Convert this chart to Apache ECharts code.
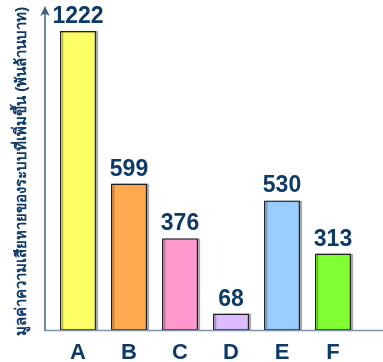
<!DOCTYPE html>
<html><head><meta charset="utf-8">
<script src="https://cdn.jsdelivr.net/npm/echarts@6/dist/echarts.min.js"></script>
<style>html,body{margin:0;padding:0;background:#fff}#c{width:383px;height:362px}</style>
</head><body><div id="c"></div>
<script>
const categories = ['A', 'B', 'C', 'D', 'E', 'F'];
const values = [1222, 599, 376, 68, 530, 313];
const barColors = ['#ffff66', '#ffaa4f', '#ff99cc', '#dcbcff', '#99ccff', '#80ff33'];
const yName = 'มูลค่าความเสียหายของระบบที่เพิ่มขึ้น (พันล้านบาท)';
const navy = '#0e3a68';

const chart = echarts.init(document.getElementById('c'), null, {renderer: 'canvas'});
chart.setOption({
  animation: false,
  backgroundColor: '#fff',
  grid: {left: 52.5, top: 12, width: 306, height: 318.5, containLabel: false, outerBoundsMode: 'none'},
  xAxis: {
    type: 'category', data: categories,
    axisLine: {show: false}, axisTick: {show: false},
    axisLabel: {color: navy, fontSize: 22, fontWeight: 'bold', fontFamily: 'Liberation Sans, Arial, sans-serif', margin: 11}
  },
  yAxis: {
    type: 'value', min: 0, max: 1300, offset: 7.5,
    name: yName, nameLocation: 'middle', nameRotate: 90, nameGap: 16,
    nameTextStyle: {color: navy, fontSize: 15, fontWeight: 'bold', fontFamily: 'Liberation Sans, Noto Sans, DejaVu Sans, sans-serif'},
    axisLine: {show: true, lineStyle: {color: '#3d5f84', width: 1.5}, symbol: ['none', 'arrow'], symbolSize: [7, 10], symbolOffset: [0, 6]},
    axisTick: {show: false}, axisLabel: {show: false}, splitLine: {show: false}
  },
  graphic: [{
    type: 'line', shape: {x1: 45, y1: 330.5, x2: 383, y2: 330.5},
    style: {stroke: '#7f93ab', lineWidth: 1.5}, z: 10
  }],
  series: [{
    type: 'bar', barWidth: 36,
    data: values.map((v, i) => ({value: v, itemStyle: {color: barColors[i]}})),
    itemStyle: {borderColor: '#222', borderWidth: 1.2, shadowColor: 'rgba(0,0,0,0.3)', shadowOffsetX: 2, shadowOffsetY: 0, shadowBlur: 1},
    label: {show: true, position: 'top', distance: 3, color: navy, fontSize: 23, fontWeight: 'bold', fontFamily: 'Liberation Sans, Arial, sans-serif'}
  }]
});
</script></body></html>
